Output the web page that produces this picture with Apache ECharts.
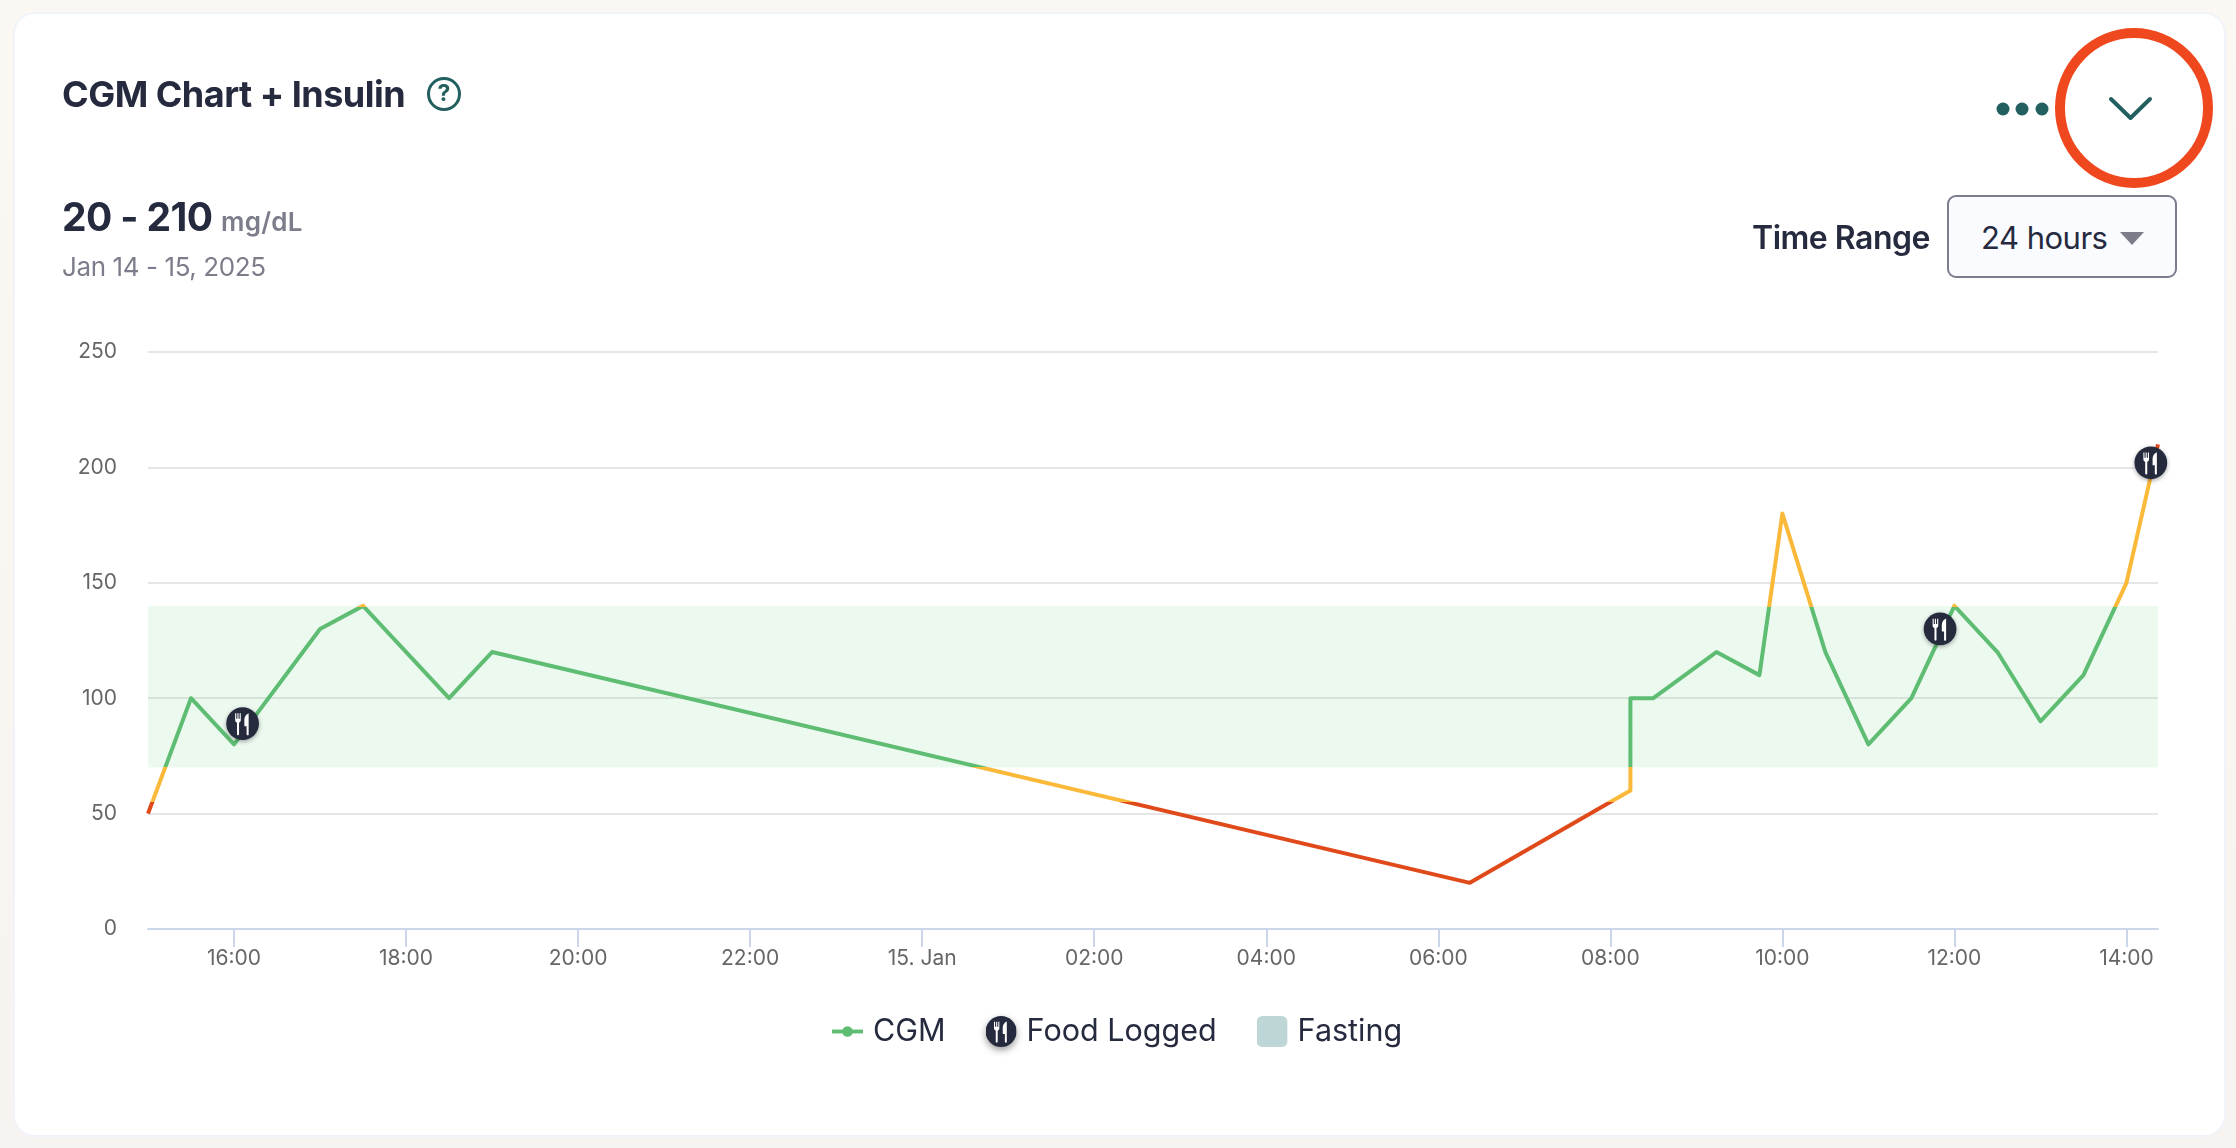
<!DOCTYPE html>
<html lang="en">
<head>
<meta charset="utf-8">
<title>CGM Chart + Insulin</title>
<script src="https://cdn.jsdelivr.net/npm/echarts@6/dist/echarts.min.js"></script>
<style>
  html, body { margin: 0; width: 2236px; height: 1148px; overflow: hidden;
    background: linear-gradient(#fbf8f3, #f7f3f0); font-family: Inter, "Noto Sans", sans-serif; color: #262a3e; }
  #card { position: absolute; left: 13px; top: 12px; width: 2213px; height: 1125px; box-sizing: border-box; background: #fff;
    border: 2px solid #f0f3fa; border-radius: 22px; }
  #chart { position: absolute; left: 0; top: 0; width: 2236px; height: 1148px; }
  .t { position: absolute; white-space: nowrap; line-height: 1; }
  #title { left: 62px; top: 76px; font-size: 36px; font-weight: 700; letter-spacing: -0.5px; }
  #range { left: 62px; top: 197px; font-size: 39px; font-weight: 700; letter-spacing: -0.6px; }
  #unit { font-size: 26px; font-weight: 600; color: #7c7d8a; letter-spacing: 0.2px; }
  #dates { left: 62px; top: 254px; font-size: 26px; font-weight: 400; color: #7c7d8a; letter-spacing: -0.4px; }
  #rangeLabel { left: 1752px; top: 222px; font-size: 32px; font-weight: 600; letter-spacing: -0.5px; }
  #select { position: absolute; left: 1947px; top: 195px; width: 230px; height: 83px; box-sizing: border-box;
    border: 2px solid #7a7d8c; border-radius: 9px; background: #fafbff; }
  #selectText { left: 1981px; top: 222px; font-size: 31px; font-weight: 400; letter-spacing: -0.5px; }
  svg.ui { position: absolute; left: 0; top: 0; }
  #help { left: 427px; top: 77px; width: 34px; height: 34px; box-sizing: border-box; border: 3.500px solid #235f5f;
    border-radius: 50%; color: #235f5f; font-size: 23px; font-weight: 700; text-align: center; line-height: 27px; }
</style>
</head>
<body>
<div id="card"></div>
<div id="chart"></div>
<div class="t" id="title"></div>
<div class="t" id="help">?</div>
<div class="t" id="range"></div>
<div class="t" id="dates"></div>
<div class="t" id="rangeLabel"></div>
<div id="select"></div>
<div class="t" id="selectText"></div>
<svg class="ui" width="2236" height="1148" viewBox="0 0 2236 1148">
  <circle cx="2003" cy="109" r="6.500" fill="#235f5f"/>
  <circle cx="2022" cy="109" r="6.500" fill="#235f5f"/>
  <circle cx="2042" cy="109" r="6.500" fill="#235f5f"/>
  <path d="M2111 99 L2130.500 118 L2150 99" fill="none" stroke="#235f5f" stroke-width="4" stroke-linecap="round" stroke-linejoin="round"/>
  <ellipse cx="2134" cy="108" rx="74" ry="75" fill="none" stroke="#f0481e" stroke-width="10"/>
  <path d="M2120 232 H2144 L2132 245 Z" fill="#7c7d8a"/>
</svg>
<script>
// Header copy
const titleText = 'CGM Chart + Insulin';
const rangeText = '20 - 210';
const unitText = 'mg/dL';
const datesText = 'Jan 14 - 15, 2025';
const rangeLabelText = 'Time Range';
const selectedRange = '24 hours';

// Glucose readings (mg/dL)
const cgmTimes = [
  '2025-01-14 15:00', '2025-01-14 15:30', '2025-01-14 16:00', '2025-01-14 17:00',
  '2025-01-14 17:30', '2025-01-14 18:30', '2025-01-14 19:00', '2025-01-15 06:22',
  '2025-01-15 08:14', '2025-01-15 08:14', '2025-01-15 08:30', '2025-01-15 09:14',
  '2025-01-15 09:44', '2025-01-15 10:00', '2025-01-15 10:30', '2025-01-15 11:00',
  '2025-01-15 11:30', '2025-01-15 12:00', '2025-01-15 12:30', '2025-01-15 13:00',
  '2025-01-15 13:30', '2025-01-15 14:00', '2025-01-15 14:22'
];
const cgmValues = [50, 100, 80, 130, 140, 100, 120, 20, 60, 100, 100, 120, 110, 180, 120, 80, 100, 140, 120, 90, 110, 150, 210];

// Meals logged by the user
const foodTimes = ['2025-01-14 16:06', '2025-01-15 11:50', '2025-01-15 14:17'];
const foodValues = [89, 130, 202];

// Axis ticks
const tickTimes = [
  '2025-01-14 16:00', '2025-01-14 18:00', '2025-01-14 20:00', '2025-01-14 22:00',
  '2025-01-15 00:00', '2025-01-15 02:00', '2025-01-15 04:00', '2025-01-15 06:00',
  '2025-01-15 08:00', '2025-01-15 10:00', '2025-01-15 12:00', '2025-01-15 14:00'
];
const tickLabels = ['16:00', '18:00', '20:00', '22:00', '15. Jan', '02:00', '04:00', '06:00', '08:00', '10:00', '12:00', '14:00'];
const axisStart = '2025-01-14 15:00';
const axisEnd = '2025-01-15 14:22';

// Target range band (mg/dL)
const targetLow = 70;
const targetHigh = 140;

const legendNames = ['CGM', 'Food Logged', 'Fasting'];

document.getElementById('title').textContent = titleText;
document.getElementById('range').innerHTML = rangeText + ' <span id="unit">' + unitText + '</span>';
document.getElementById('dates').textContent = datesText;
document.getElementById('rangeLabel').textContent = rangeLabelText;
document.getElementById('selectText').textContent = selectedRange;

const toMs = s => { const [d, t] = s.split(' '); const [y, m, dd] = d.split('-').map(Number); const [h, mi] = t.split(':').map(Number); return new Date(y, m - 1, dd, h, mi).getTime(); };
const tickMs = tickTimes.map(toMs);

const svgUri = s => 'image://data:image/svg+xml,' + encodeURIComponent(s);
const utensils =
  '<g fill="#fff">' +
  '<path d="M8.700 6h1.100v5.200h1.100V6h1.100v5.200h1.100V6h1.100v6.600c0 1.400-.8 2.200-1.700 2.500v11.400c0 .6-.4.900-.9.900h-.2c-.5 0-.9-.3-.9-.9V15.100c-.9-.3-1.800-1.100-1.800-2.500z"/>' +
  '<path d="M21.900 5.800v21.100c0 .4-.4.600-.8.600h-.4c-.4 0-.8-.3-.8-.8v-8.200h-1.800c-.3 0-.4-.2-.4-.4V12c0-3 2-5.400 4.200-6.200z"/>' +
  '</g>';
const markerIcon = svgUri(
  '<svg xmlns="http://www.w3.org/2000/svg" width="45" height="45" viewBox="-6 -6 44 44">' +
  '<defs><filter id="s" x="-30%" y="-30%" width="160%" height="160%"><feDropShadow dx="0" dy="1.500" stdDeviation="2" flood-color="#000" flood-opacity="0.35"/></filter></defs>' +
  '<circle cx="16" cy="16" r="16" fill="#262a3e" filter="url(#s)"/>' + utensils + '</svg>');
const foodLegendIcon = svgUri(
  '<svg xmlns="http://www.w3.org/2000/svg" width="32" height="32" viewBox="0 0 32 32">' +
  '<circle cx="16" cy="16" r="16" fill="#262a3e"/>' + utensils + '</svg>');
const cgmLegendIcon = svgUri(
  '<svg xmlns="http://www.w3.org/2000/svg" width="32" height="32" viewBox="0 0 32 32">' +
  '<rect x="0" y="14" width="32" height="4" fill="#5fbd73"/><circle cx="16" cy="16" r="5.500" fill="#5fbd73"/></svg>');
const fastingLegendIcon = svgUri(
  '<svg xmlns="http://www.w3.org/2000/svg" width="32" height="32" viewBox="0 0 32 32">' +
  '<rect width="32" height="32" rx="6" fill="#bed6d6"/></svg>');

const chart = echarts.init(document.getElementById('chart'), null, { renderer: 'canvas' });
chart.setOption({
  animation: false,
  backgroundColor: 'transparent',
  textStyle: { fontFamily: 'Inter' },
  grid: { left: 148, right: 78, top: 352, bottom: 219, containLabel: false },
  xAxis: {
    type: 'value',
    min: toMs(axisStart),
    max: toMs(axisEnd),
    axisLine: { show: true, lineStyle: { color: '#ccd6eb', width: 2 } },
    axisTick: { show: true, length: 18, lineStyle: { color: '#ccd6eb', width: 2 }, customValues: tickMs },
    axisLabel: {
      customValues: tickMs,
      margin: 19, color: '#666', fontSize: 21, fontFamily: 'Inter',
      hideOverlap: false,
      formatter: v => tickLabels[tickMs.indexOf(+v)] || ''
    },
    splitLine: { show: false }
  },
  yAxis: {
    type: 'value', min: 0, max: 250, interval: 50,
    axisLine: { show: false }, axisTick: { show: false },
    axisLabel: { margin: 31, color: '#666', fontSize: 21, fontFamily: 'Inter' },
    splitLine: { lineStyle: { color: '#e6e6e6', width: 2 } }
  },
  // Line colour follows the glucose level: low, borderline, in range, high, very high
  visualMap: {
    show: false, type: 'piecewise', seriesIndex: 0, dimension: 1,
    pieces: [
      { lt: 55, color: '#e04a1a' },
      { gte: 55, lt: 70, color: '#fbb93a' },
      { gte: 70, lt: 139.5, color: '#5fbd73' },
      { gte: 139.5, lt: 205, color: '#fbb93a' },
      { gte: 205, color: '#e04a1a' }
    ]
  },
  legend: {
    left: 827, top: 1011, itemWidth: 31, itemHeight: 31, itemGap: 40, symbolKeepAspect: false,
    textStyle: { color: '#262a3e', fontSize: 30.500, fontFamily: 'Inter', padding: [0, 0, 0, 5] },
    selectedMode: false,
    data: [
      { name: legendNames[0], icon: cgmLegendIcon },
      { name: legendNames[1], icon: foodLegendIcon,
        itemStyle: { shadowBlur: 7, shadowColor: 'rgba(0,0,0,0.4)', shadowOffsetY: 3 } },
      { name: legendNames[2], icon: fastingLegendIcon }
    ]
  },
  series: [
    {
      name: legendNames[0], type: 'line', z: 3,
      showSymbol: false, symbol: 'none', clip: false,
      lineStyle: { width: 4, join: 'round' },
      itemStyle: { color: '#5fbd73' },
      data: cgmTimes.map((t, i) => [toMs(t), cgmValues[i]]),
      markArea: {
        silent: true,
        itemStyle: { color: 'rgba(100,205,120,0.12)' },
        data: [[{ yAxis: targetLow }, { yAxis: targetHigh }]]
      }
    },
    {
      name: legendNames[1], type: 'scatter', z: 5,
      symbol: markerIcon, symbolSize: 45,
      itemStyle: { color: '#262a3e', opacity: 1 },
      data: foodTimes.map((t, i) => [toMs(t), foodValues[i]])
    },
    {
      // Fasting windows: none recorded in this time range
      name: legendNames[2], type: 'line', data: [],
      itemStyle: { color: '#bed6d6' }
    }
  ]
});
</script>
</body>
</html>
